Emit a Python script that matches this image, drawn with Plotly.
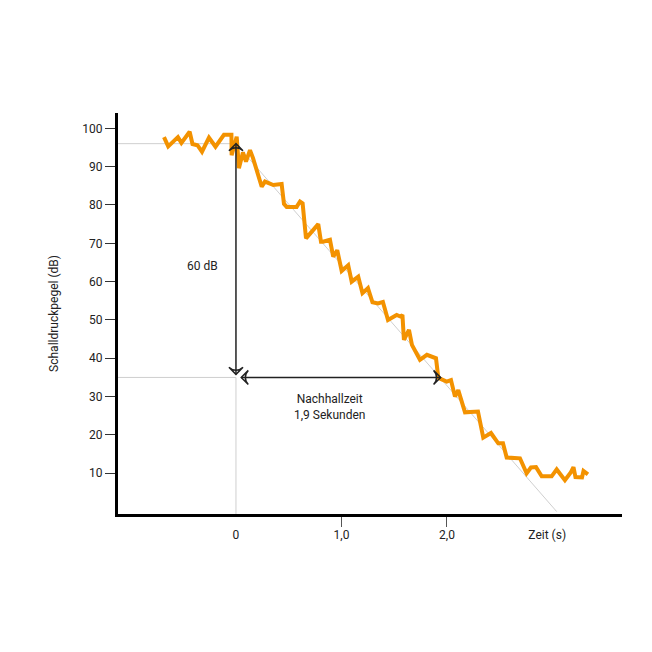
import plotly.graph_objects as go

# Measured sound level (dB) over time (s)
time_s = [-0.682, -0.642, -0.550, -0.517, -0.439, -0.412, -0.365, -0.322, -0.256, -0.194,
          -0.114, -0.043, -0.041, 0.007, 0.028, 0.066, 0.095, 0.133, 0.161, 0.244,
          0.275, 0.354, 0.433, 0.455, 0.481, 0.575, 0.607, 0.632, 0.664, 0.780,
          0.806, 0.825, 0.891, 0.922, 0.960, 1.002, 1.064, 1.097, 1.159, 1.199,
          1.251, 1.294, 1.346, 1.393, 1.441, 1.523, 1.559, 1.578, 1.592, 1.640,
          1.668, 1.744, 1.810, 1.896, 1.918, 1.997, 2.038, 2.076, 2.107, 2.171,
          2.294, 2.344, 2.417, 2.486, 2.531, 2.566, 2.692, 2.725, 2.755, 2.796,
          2.844, 2.898, 2.992, 3.040, 3.118, 3.175, 3.199, 3.218, 3.280, 3.294, 3.336]
level_db = [97.7, 95.3, 97.7, 96.2, 99.1, 95.9, 95.6, 93.9, 97.6, 95.2,
            98.3, 98.3, 93.0, 97.8, 89.6, 93.7, 91.3, 94.3, 92.3, 84.8,
            86.1, 85.2, 85.5, 80.3, 79.5, 79.5, 80.9, 80.4, 71.3, 75.0,
            70.4, 70.4, 70.9, 66.5, 68.2, 62.8, 64.3, 60.0, 61.3, 57.0,
            58.3, 54.6, 54.3, 54.7, 50.0, 51.3, 50.9, 51.3, 44.8, 47.4,
            43.5, 39.6, 40.9, 40.0, 34.9, 33.9, 34.3, 30.0, 31.7, 25.9,
            26.1, 19.3, 20.5, 17.8, 17.8, 14.1, 13.9, 11.9, 10.0, 11.5,
            11.6, 9.2, 9.2, 11.0, 8.2, 10.3, 11.6, 9.0, 8.9, 10.6, 9.7]

# Reference decay line and reverberation markers
decay_t = [0.0, 3.04]
decay_db = [96, 0]
start_level = 96
end_level = 35
t_start = 0.0
t_end = 1.94

y_ticks = [10, 20, 30, 40, 50, 60, 70, 80, 90, 100]
x_tick_vals = [0, 1, 2, 2.95]
x_tick_text = ["0", "1,0", "2,0", "Zeit (s)"]
x_minor_ticks = [1, 2]

x_min, x_max = -1.118, 3.659
y_min, y_max = -0.63, 104.0

FONT = "Roboto"
ORANGE = "#F39200"
GRID = "#cfcfcf"
INK = "#222222"

fig = go.Figure()

# thin gray guide lines
fig.add_trace(go.Scatter(x=[x_min, t_start], y=[start_level, start_level], mode="lines",
                         line=dict(color=GRID, width=1), hoverinfo="skip", showlegend=False))
fig.add_trace(go.Scatter(x=[x_min, t_start], y=[end_level, end_level], mode="lines",
                         line=dict(color=GRID, width=1), hoverinfo="skip", showlegend=False))
fig.add_trace(go.Scatter(x=[t_start, t_start], y=[y_min, end_level], mode="lines",
                         line=dict(color=GRID, width=1), hoverinfo="skip", showlegend=False))
fig.add_trace(go.Scatter(x=decay_t, y=decay_db, mode="lines",
                         line=dict(color=GRID, width=1), hoverinfo="skip", showlegend=False))

# measured curve
fig.add_trace(go.Scatter(x=time_s, y=level_db, mode="lines",
                         line=dict(color=ORANGE, width=4), hoverinfo="skip", showlegend=False))

# vertical arrow (60 dB)
fig.add_trace(go.Scatter(x=[t_start, t_start], y=[start_level, end_level + 0.8], mode="lines+markers",
                         line=dict(color=INK, width=1.5),
                         marker=dict(symbol="arrow-wide-open", size=10, angle=[0, 180],
                                     color=INK, line=dict(color=INK, width=1.5)),
                         hoverinfo="skip", showlegend=False))
# horizontal arrow (reverberation time)
fig.add_trace(go.Scatter(x=[t_start + 0.05, t_end], y=[end_level, end_level], mode="lines+markers",
                         line=dict(color=INK, width=1.5),
                         marker=dict(symbol="arrow-wide-open", size=10, angle=[270, 90],
                                     color=INK, line=dict(color=INK, width=1.5)),
                         hoverinfo="skip", showlegend=False))

fig.add_annotation(x=-0.32, y=64.1, text="60 dB", showarrow=False,
                   font=dict(family=FONT, size=12, color=INK))
fig.add_annotation(x=0.89, y=27.4, text="Nachhallzeit<br>1,9 Sekunden", showarrow=False,
                   font=dict(family=FONT, size=12, color=INK))

fig.update_layout(
    width=644, height=644,
    margin=dict(l=110, r=30, t=105, b=138),
    paper_bgcolor="white", plot_bgcolor="white",
    font=dict(family=FONT, size=12, color=INK),
    xaxis=dict(range=[x_min, x_max], showgrid=False, zeroline=False,
               showline=True, linecolor="black", linewidth=3,
               tickvals=x_tick_vals, ticktext=x_tick_text,
               ticks="outside", ticklen=8, tickcolor="rgba(0,0,0,0)",
               minor=dict(tickvals=x_minor_ticks, ticks="outside", ticklen=10,
                          tickcolor="#555555", tickwidth=1),
               tickfont=dict(family=FONT, size=12, color=INK)),
    yaxis=dict(range=[y_min, y_max], showgrid=False, zeroline=False,
               showline=True, linecolor="black", linewidth=3,
               tickvals=y_ticks, ticks="outside", ticklen=10, tickcolor="#333333",
               tickwidth=1.2, tickfont=dict(family=FONT, size=12, color=INK),
               title=dict(text="Schalldruckpegel (dB)", font=dict(family=FONT, size=12, color=INK),
                          standoff=22)),
)

fig.write_html("out.html")
